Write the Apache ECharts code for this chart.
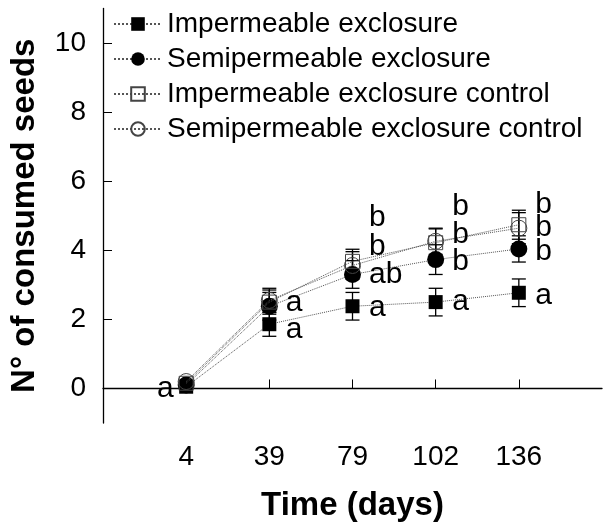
<!DOCTYPE html>
<html>
<head>
<meta charset="utf-8">
<script src="https://cdn.jsdelivr.net/npm/echarts@6/dist/echarts.min.js"></script>
<style>
html,body{margin:0;padding:0;background:#fff;}
#c{width:608px;height:527px;}
</style>
</head>
<body>
<div id="c"></div>
<script>
// ---- data ----
var days = ['4', '39', '79', '102', '136'];
var seriesNames = ['Impermeable exclosure', 'Semipermeable exclosure', 'Impermeable exclosure control', 'Semipermeable exclosure control'];
var impExcl = [0.05, 1.86, 2.38, 2.50, 2.77];
var semiExcl = [0.10, 2.38, 3.30, 3.73, 4.04];
var impCtrl = [0.15, 2.50, 3.68, 4.22, 4.74];
var semiCtrl = [0.20, 2.55, 3.56, 4.26, 4.64];
var impExclSE = [0, 0.35, 0.40, 0.40, 0.40];
var semiExclSE = [0, 0.40, 0.40, 0.43, 0.38];
var impCtrlSE = [0, 0.35, 0.35, 0.40, 0.42];
var semiCtrlSE = [0, 0.35, 0.40, 0.38, 0.45];
var yTicks = [0, 2, 4, 6, 8, 10];
// significance letters: day index, value level, text
var letterDay = [0, 1, 1, 2, 2, 2, 2, 3, 3, 3, 3, 4, 4, 4, 4];
var letterY = [0.0, 2.49, 1.71, 4.94, 4.11, 3.29, 2.34, 5.26, 4.45, 3.68, 2.52, 5.31, 4.64, 3.97, 2.67];
var letterText = ['a', 'a', 'a', 'b', 'b', 'ab', 'a', 'b', 'b', 'b', 'a', 'b', 'b', 'b', 'a'];

var allVals = [impExcl, semiExcl, impCtrl, semiCtrl];
var allSE = [impExclSE, semiExclSE, impCtrlSE, semiCtrlSE];
var symbols = ['rect', 'circle', 'rect', 'circle'];
var symSizes = [14, 17, 14, 16];
var filled = [true, true, false, false];

function pts(vals) { return vals.map(function (v, i) { return [i + 1, v]; }); }

var FONT = 'Liberation Sans, Arial, sans-serif';
var series = [];

// error bars
var errData = [];
allVals.forEach(function (vals, s) {
  vals.forEach(function (v, i) { if (allSE[s][i] > 0) errData.push([i + 1, v - allSE[s][i], v + allSE[s][i]]); });
});
series.push({
  type: 'custom', name: 'err', z: 1, silent: true,
  data: errData,
  encode: { x: 0, y: [1, 2] },
  renderItem: function (params, api) {
    var x = api.value(0);
    var lo = api.coord([x, api.value(1)]);
    var hi = api.coord([x, api.value(2)]);
    var w = 7;
    var st = { stroke: '#000', lineWidth: 1.3 };
    return { type: 'group', children: [
      { type: 'line', shape: { x1: lo[0], y1: lo[1], x2: hi[0], y2: hi[1] }, style: st },
      { type: 'line', shape: { x1: lo[0] - w, y1: lo[1], x2: lo[0] + w, y2: lo[1] }, style: st },
      { type: 'line', shape: { x1: hi[0] - w, y1: hi[1], x2: hi[0] + w, y2: hi[1] }, style: st }
    ] };
  }
});

allVals.forEach(function (vals, s) {
  series.push({
    type: 'line', name: seriesNames[s], data: pts(vals), z: 3 + s,
    symbol: symbols[s], symbolSize: symSizes[s], showAllSymbol: true,
    lineStyle: { type: 'dotted', width: 1, color: '#555' },
    itemStyle: filled[s] ? { color: '#000', borderColor: '#000', borderWidth: 0 } : { color: 'rgba(255,255,255,0)', borderColor: '#444', borderWidth: 1 },
    emphasis: { disabled: true },
    animation: false
  });
});

// letters
series.push({
  type: 'scatter', name: 'letters', symbolSize: 1, silent: true, z: 10,
  itemStyle: { opacity: 0 },
  data: letterDay.map(function (d, i) {
    var item = { value: [d + 1, letterY[i], letterText[i]] };
    if (d === 0) item.label = { position: 'left', distance: 12 };
    return item;
  }),
  label: {
    show: true, fontFamily: FONT, fontSize: 30, color: '#000', opacity: 1,
    position: 'right', distance: 16,
    formatter: function (p) { return p.value[2]; }
  },
  animation: false
});

var chart = echarts.init(document.getElementById('c'), null, { renderer: 'canvas' });
chart.setOption({
  animation: false,
  backgroundColor: '#fff',
  grid: { left: 102, right: 6, top: 8.5, bottom: 101.5, containLabel: false },
  legend: {
    data: seriesNames, orient: 'vertical', left: 108, top: 5,
    itemWidth: 48, itemHeight: 17, itemGap: 7,
    textStyle: { fontFamily: FONT, fontSize: 28, color: '#000' },
    selectedMode: false
  },
  xAxis: {
    type: 'value', min: 0, max: 6, interval: 1,
    name: 'Time (days)', nameLocation: 'middle', nameGap: 66,
    nameTextStyle: { fontFamily: FONT, fontSize: 33, fontWeight: 'bold', color: '#000' },
    axisLine: { lineStyle: { color: '#000', width: 1.3 } },
    axisTick: { inside: true, length: 9, lineStyle: { color: '#000', width: 1 }, customValues: [1, 2, 3, 4, 5] },
    axisLabel: { customValues: [1, 2, 3, 4, 5], margin: 20, fontFamily: FONT, fontSize: 28, color: '#000',
      formatter: function (v) { return days[Math.round(v) - 1] || ''; } },
    splitLine: { show: false }
  },
  yAxis: {
    type: 'value', min: -1, max: 11, interval: 1,
    name: 'N° of consumed seeds', nameLocation: 'middle', nameGap: 62, nameRotate: 90,
    nameTextStyle: { fontFamily: FONT, fontSize: 33, fontWeight: 'bold', color: '#000' },
    axisLine: { show: true, lineStyle: { color: '#000', width: 1.3 } },
    axisTick: { show: true, inside: true, length: 9, lineStyle: { color: '#000', width: 1 }, customValues: yTicks },
    axisLabel: { customValues: yTicks, margin: 17, fontFamily: FONT, fontSize: 28, color: '#000' },
    splitLine: { show: false }
  },
  series: series
});
</script>
</body>
</html>
